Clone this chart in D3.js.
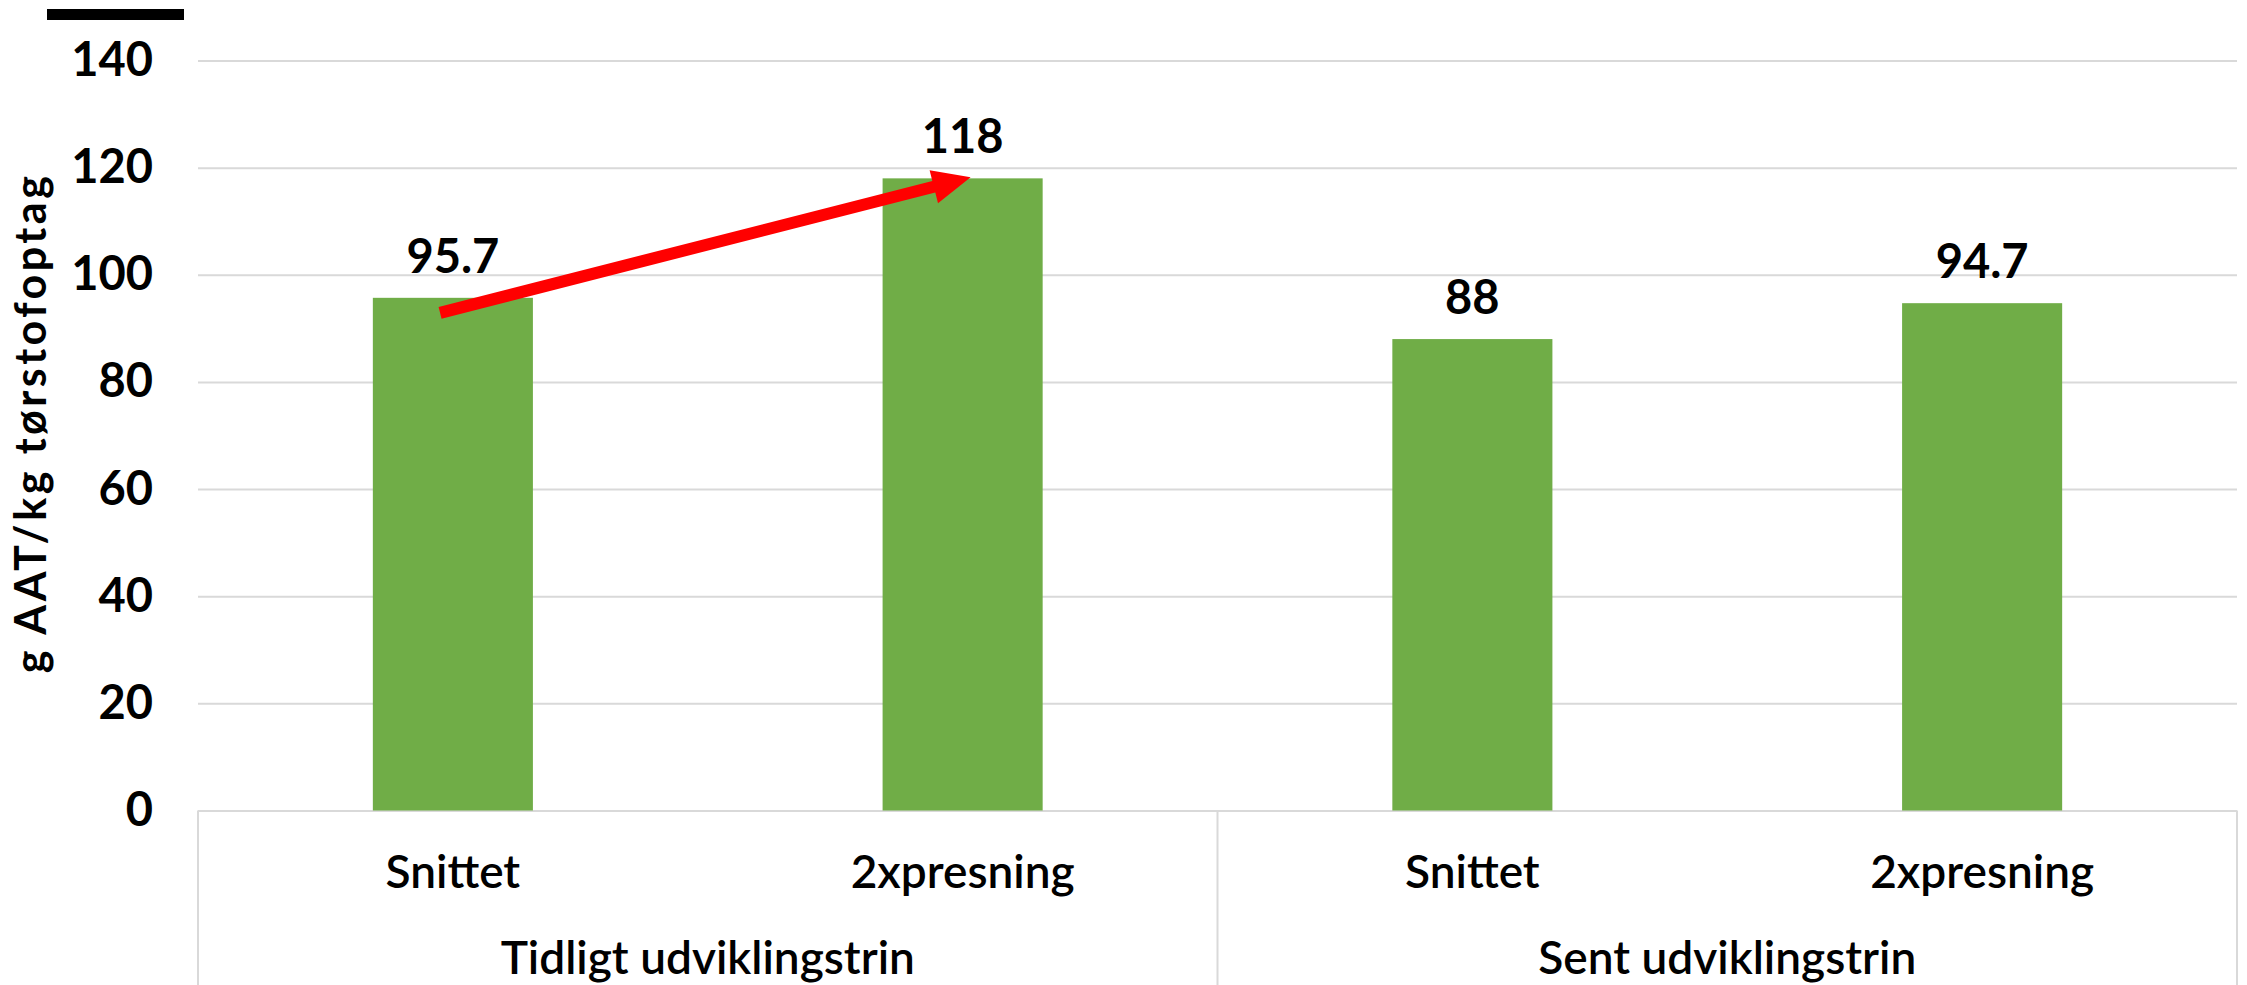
<!DOCTYPE html>
<html>
<head>
<meta charset="utf-8">
<script src="https://cdn.jsdelivr.net/npm/d3@7"></script>
<style>
  body { margin: 0; background: #fff; }
  svg { display: block; }
</style>
</head>
<body>
<div id="chart"></div>
<script>
// Data
const keys = ["t-snit", "t-2x", "s-snit", "s-2x"]
const subLabels = ["Snittet", "2xpresning", "Snittet", "2xpresning"]
const groupLabels = ["Tidligt udviklingstrin", "Sent udviklingstrin"]
const values = [95.7, 118, 88, 94.7]
const yTicks = [0, 20, 40, 60, 80, 100, 120, 140]
const yTitle = "g AAT/kg tørstofoptag"
// arrow annotation: from bar 0 to bar 1 (value + fraction across the bar)
const arrowFrom = { bar: 0, frac: 0.42, value: 92.9 }
const arrowTo = { bar: 1, frac: 0.55, value: 118.2 }

// Constants
const width = 2247
const height = 985
const margin = { top: 60.5, right: 10, bottom: 174.5, left: 198 }
const font = "Lato, 'Noto Sans', sans-serif"
const green = '#70AD47'
const grid = '#D9D9D9'

const svg = d3.select("#chart")
    .append("svg")
    .attr("width", width)
    .attr("height", height)

// Scales
const x = d3.scaleBand()
    .domain(keys)
    .range([margin.left, width - margin.right])
    .paddingInner(0.686)
    .paddingOuter(0.343)

const y = d3.scaleLinear()
    .domain([0, 140])
    .range([height - margin.bottom, margin.top])

// little black bar top left
svg.append("rect")
    .attr("x", 47).attr("y", 9)
    .attr("width", 137).attr("height", 11)
    .attr("fill", "#000")

// Gridlines + y labels
const yAxis = d3.axisLeft(y)
    .tickValues(yTicks)
    .tickSize(-(width - margin.right - margin.left))
    .tickPadding(45)

const yAxisGroup = svg.append("g")
    .attr("transform", `translate(${margin.left}, 0)`)
    .call(yAxis)
yAxisGroup.select(".domain").remove()
yAxisGroup.selectAll("line")
    .style("stroke", grid)
    .style("stroke-width", 2)
yAxisGroup.selectAll("text")
    .style("font-family", font)
    .style("font-size", "47px")
    .style("font-weight", 700)
    .style("fill", "#000")

// category box lines
const x0 = margin.left, x1 = width - margin.right
const y0 = y(0)
const mid = (x(keys[1]) + x.bandwidth() + x(keys[2])) / 2
svg.append("g")
    .selectAll("line")
    .data([x0, mid, x1])
    .join("line")
    .attr("x1", d => d).attr("x2", d => d)
    .attr("y1", y0).attr("y2", height)
    .style("stroke", grid)
    .style("stroke-width", 2)

// Bars
svg.append("g")
    .selectAll("rect")
    .data(values)
    .join("rect")
    .attr("x", (d, i) => x(keys[i]))
    .attr("y", d => y(d))
    .attr("width", x.bandwidth())
    .attr("height", d => y0 - y(d))
    .attr("fill", green)

// Value labels
svg.append("g")
    .selectAll("text")
    .data(values)
    .join("text")
    .attr("x", (d, i) => x(keys[i]) + x.bandwidth() / 2)
    .attr("y", d => y(d) - 25)
    .attr("text-anchor", "middle")
    .style("font-family", font)
    .style("font-size", "47px")
    .style("font-weight", 700)
    .text(d => d)

// Sub category labels
svg.append("g")
    .selectAll("text")
    .data(subLabels)
    .join("text")
    .attr("x", (d, i) => x(keys[i]) + x.bandwidth() / 2)
    .attr("y", y0 + 77)
    .attr("text-anchor", "middle")
    .style("font-family", font)
    .style("font-size", "46px")
    .style("font-weight", 600)
    .text(d => d)

// Group labels
svg.append("g")
    .selectAll("text")
    .data(groupLabels)
    .join("text")
    .attr("x", (d, i) => i === 0 ? (x0 + mid) / 2 : (mid + x1) / 2)
    .attr("y", y0 + 163)
    .attr("text-anchor", "middle")
    .style("font-family", font)
    .style("font-size", "46px")
    .style("font-weight", 600)
    .text(d => d)

// Y title
svg.append("text")
    .attr("transform", `translate(46, 423) rotate(-90)`)
    .attr("text-anchor", "middle")
    .style("font-family", font)
    .style("font-size", "43px")
    .style("font-weight", 700)
    .style("letter-spacing", "3.5px")
    .text(yTitle)

// Arrow
const ax1 = x(keys[arrowFrom.bar]) + x.bandwidth() * arrowFrom.frac
const ay1 = y(arrowFrom.value)
const ax2 = x(keys[arrowTo.bar]) + x.bandwidth() * arrowTo.frac
const ay2 = y(arrowTo.value)
const len = Math.hypot(ax2 - ax1, ay2 - ay1)
const ux = (ax2 - ax1) / len, uy = (ay2 - ay1) / len
const px = -uy, py = ux
const shaft = 6, headLen = 38, headHalf = 17
const bx = ax2 - ux * headLen, by = ay2 - uy * headLen
const pts = [
    [ax1 + px * shaft, ay1 + py * shaft],
    [bx + px * shaft, by + py * shaft],
    [bx + px * headHalf, by + py * headHalf],
    [ax2, ay2],
    [bx - px * headHalf, by - py * headHalf],
    [bx - px * shaft, by - py * shaft],
    [ax1 - px * shaft, ay1 - py * shaft]
]
svg.append("path")
    .attr("d", d3.line()(pts) + "Z")
    .attr("fill", "#FF0000")
</script>
</body>
</html>
